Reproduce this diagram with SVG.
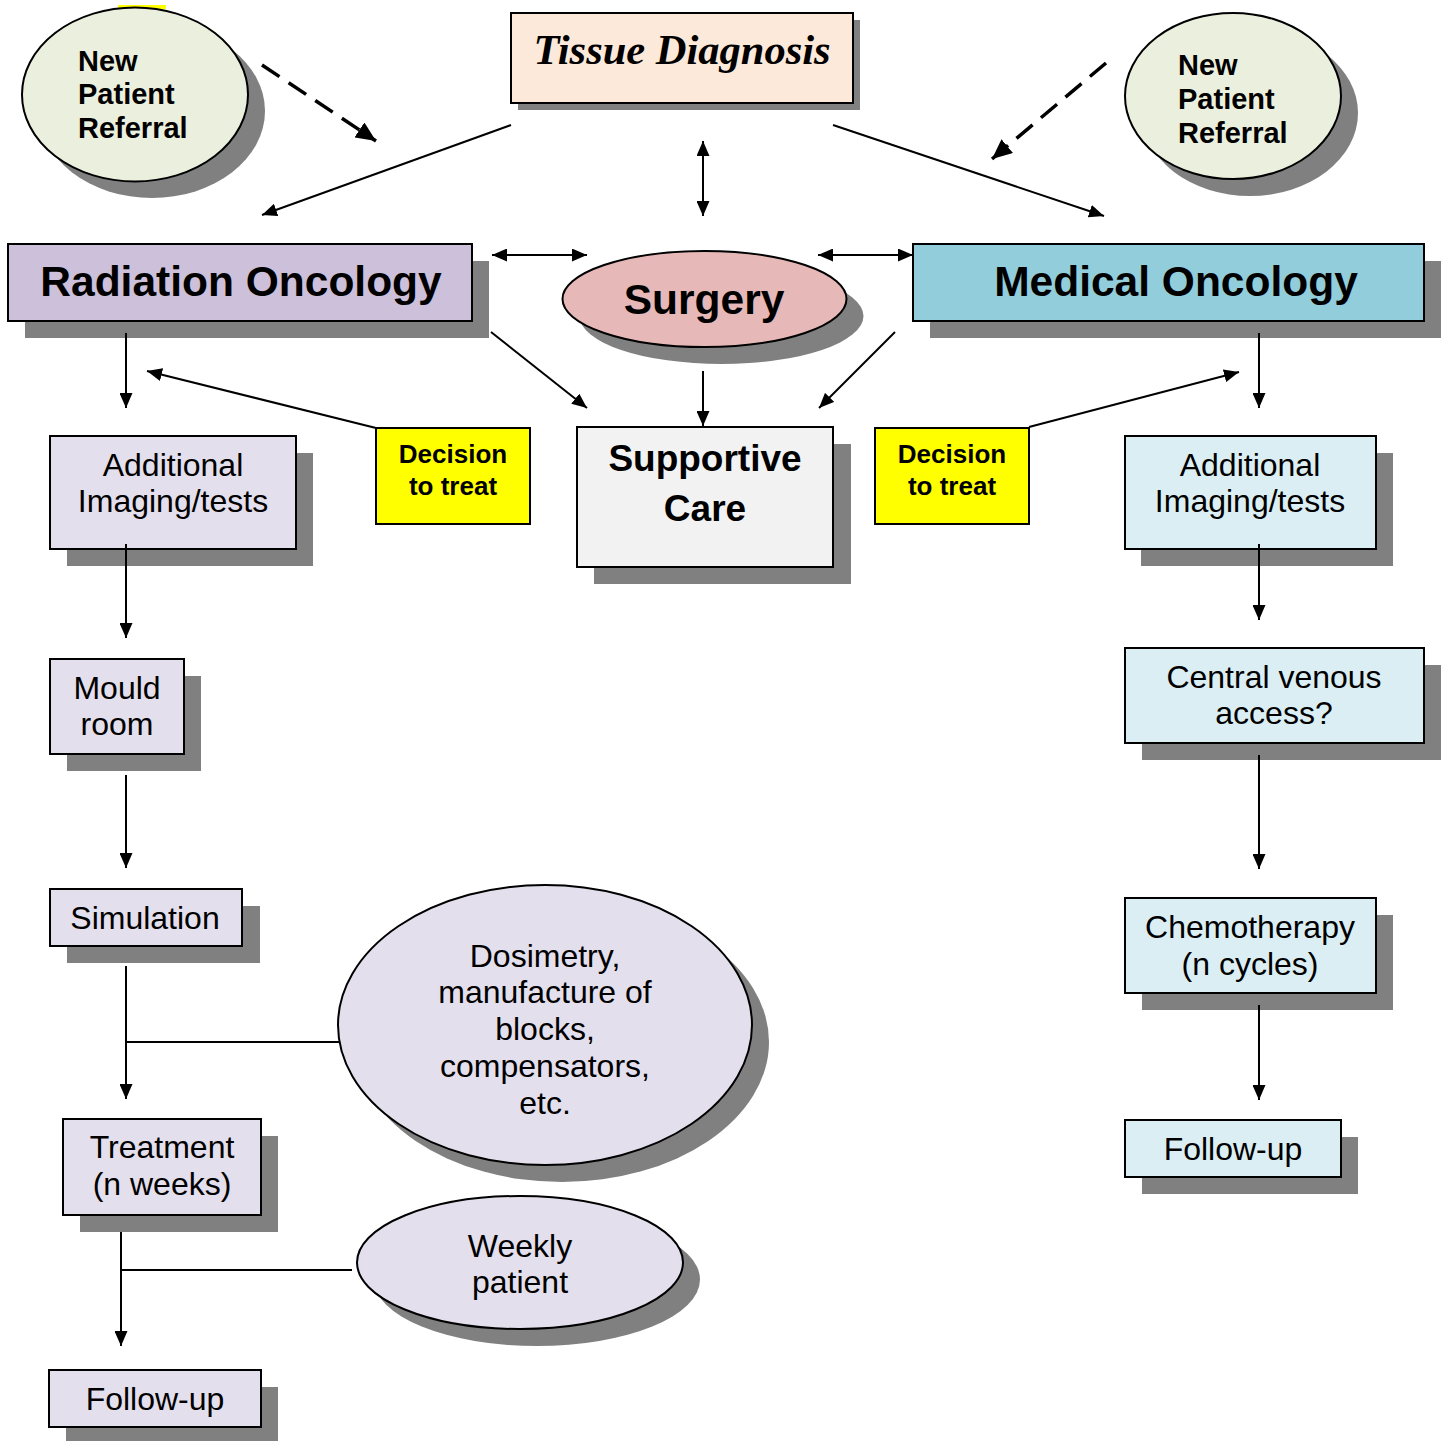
<svg xmlns="http://www.w3.org/2000/svg" width="1442" height="1441" viewBox="0 0 1442 1441">
<style>
.sh{fill:#808080}
.bx{stroke:#000;stroke-width:2}
.t{font-family:"Liberation Sans",Arial,sans-serif;fill:#000;text-anchor:middle}
.s{text-anchor:start}
.b{font-weight:bold}
.c{fill:none;stroke:#000;stroke-width:2}
.a{marker-end:url(#ah)}
.d{marker-start:url(#ah);marker-end:url(#ah)}
.dash{fill:none;stroke:#000;stroke-width:3.5;stroke-dasharray:21 11;marker-end:url(#ahb)}
</style>
<defs>
<marker id="ah" viewBox="0 0 15 13" refX="15" refY="6.5" markerWidth="15" markerHeight="13" markerUnits="userSpaceOnUse" orient="auto-start-reverse">
<path d="M0,0 L15,6.5 L0,13 Z" fill="#000"/>
</marker>
<marker id="ahb" viewBox="0 0 20 18" refX="20" refY="9" markerWidth="20" markerHeight="18" markerUnits="userSpaceOnUse" orient="auto">
<path d="M0,0 L20,9 L0,18 Z" fill="#000"/>
</marker>
</defs>
<rect x="0" y="0" width="1442" height="1441" fill="#fff"/>
<rect x="118" y="5" width="48" height="4" fill="#ffff00"/>

<g id="referral-left">
<ellipse class="sh" cx="152" cy="111" rx="113" ry="87"/>
<ellipse class="bx" cx="135" cy="94.5" rx="113" ry="87" fill="#ebf0de"/>
<text class="t b s" font-size="29" x="78" y="71">New</text>
<text class="t b s" font-size="29" x="78" y="104">Patient</text>
<text class="t b s" font-size="29" x="78" y="138">Referral</text>
</g>

<g id="referral-right">
<ellipse class="sh" cx="1250" cy="113" rx="108" ry="83"/>
<ellipse class="bx" cx="1233" cy="96" rx="108" ry="83" fill="#ebf0de"/>
<text class="t b s" font-size="29" x="1178" y="75">New</text>
<text class="t b s" font-size="29" x="1178" y="109">Patient</text>
<text class="t b s" font-size="29" x="1178" y="143">Referral</text>
</g>

<g id="tissue-diagnosis">
<rect class="sh" x="518" y="20" width="342" height="90"/>
<rect class="bx" x="511" y="13" width="342" height="90" fill="#fde9d9"/>
<text x="682" y="64" font-family="'Liberation Serif','Times New Roman',serif" font-size="42.5" font-weight="bold" font-style="italic" text-anchor="middle">Tissue Diagnosis</text>
</g>

<g id="radiation-oncology">
<rect class="sh" x="25" y="261" width="464" height="77"/>
<rect class="bx" x="8" y="244" width="464" height="77" fill="#ccc0da"/>
<text class="t b" font-size="42.5" x="241" y="296">Radiation Oncology</text>
</g>

<g id="surgery">
<ellipse class="sh" cx="721.5" cy="316" rx="142" ry="48"/>
<ellipse class="bx" cx="704.5" cy="299" rx="142" ry="48" fill="#e6b9b8"/>
<text class="t b" font-size="42.5" x="704" y="314">Surgery</text>
</g>

<g id="medical-oncology">
<rect class="sh" x="930" y="261" width="511" height="77"/>
<rect class="bx" x="913" y="244" width="511" height="77" fill="#92cddc"/>
<text class="t b" font-size="42.5" x="1176" y="296">Medical Oncology</text>
</g>

<g id="supportive-care">
<rect class="sh" x="594" y="444" width="257" height="140"/>
<rect class="bx" x="577" y="427" width="256" height="140" fill="#f2f2f2"/>
<text class="t b" font-size="37" x="705" y="471">Supportive</text>
<text class="t b" font-size="37" x="705" y="521">Care</text>
</g>

<g id="decision-left">
<rect class="bx" x="376" y="428" width="154" height="96" fill="#ffff00"/>
<text class="t b" font-size="26" x="453" y="463">Decision</text>
<text class="t b" font-size="26" x="453" y="495">to treat</text>
</g>

<g id="decision-right">
<rect class="bx" x="875" y="428" width="154" height="96" fill="#ffff00"/>
<text class="t b" font-size="26" x="952" y="463">Decision</text>
<text class="t b" font-size="26" x="952" y="495">to treat</text>
</g>

<g id="imaging-left">
<rect class="sh" x="67" y="453" width="246" height="113"/>
<rect class="bx" x="50" y="436" width="246" height="113" fill="#e4dfec"/>
<text class="t" font-size="32" x="173" y="476">Additional</text>
<text class="t" font-size="32" x="173" y="512">Imaging/tests</text>
</g>

<g id="mould-room">
<rect class="sh" x="67" y="676" width="134" height="95"/>
<rect class="bx" x="50" y="659" width="134" height="95" fill="#e4dfec"/>
<text class="t" font-size="32" x="117" y="699">Mould</text>
<text class="t" font-size="32" x="117" y="735">room</text>
</g>

<g id="simulation">
<rect class="sh" x="67" y="906" width="193" height="57"/>
<rect class="bx" x="50" y="889" width="192" height="57" fill="#e4dfec"/>
<text class="t" font-size="32" x="145" y="929">Simulation</text>
</g>

<g id="dosimetry">
<ellipse class="sh" cx="562" cy="1042" rx="207" ry="140"/>
<ellipse class="bx" cx="545" cy="1025" rx="207" ry="140" fill="#e4dfec"/>
<text class="t" font-size="32" x="545" y="967">Dosimetry,</text>
<text class="t" font-size="32" x="545" y="1003">manufacture of</text>
<text class="t" font-size="32" x="545" y="1040">blocks,</text>
<text class="t" font-size="32" x="545" y="1077">compensators,</text>
<text class="t" font-size="32" x="545" y="1114">etc.</text>
</g>

<g id="treatment">
<rect class="sh" x="80" y="1136" width="198" height="96"/>
<rect class="bx" x="63" y="1119" width="198" height="96" fill="#e4dfec"/>
<text class="t" font-size="32" x="162" y="1158">Treatment</text>
<text class="t" font-size="32" x="162" y="1195">(n weeks)</text>
</g>

<g id="weekly-patient">
<ellipse class="sh" cx="537" cy="1279.5" rx="163" ry="66.5"/>
<ellipse class="bx" cx="520" cy="1262.5" rx="163" ry="66.5" fill="#e4dfec"/>
<text class="t" font-size="32" x="520" y="1257">Weekly</text>
<text class="t" font-size="32" x="520" y="1293">patient</text>
</g>

<g id="followup-left">
<rect class="sh" x="66" y="1387" width="212" height="57"/>
<rect class="bx" x="49" y="1370" width="212" height="57" fill="#e4dfec"/>
<text class="t" font-size="32" x="155" y="1410">Follow-up</text>
</g>

<g id="imaging-right">
<rect class="sh" x="1141" y="453" width="252" height="113"/>
<rect class="bx" x="1125" y="436" width="251" height="113" fill="#dbeef3"/>
<text class="t" font-size="32" x="1250" y="476">Additional</text>
<text class="t" font-size="32" x="1250" y="512">Imaging/tests</text>
</g>

<g id="central-venous">
<rect class="sh" x="1142" y="665" width="299" height="95"/>
<rect class="bx" x="1125" y="648" width="299" height="95" fill="#dbeef3"/>
<text class="t" font-size="32" x="1274" y="688">Central venous</text>
<text class="t" font-size="32" x="1274" y="724">access?</text>
</g>

<g id="chemotherapy">
<rect class="sh" x="1142" y="915" width="251" height="95"/>
<rect class="bx" x="1125" y="898" width="251" height="95" fill="#dbeef3"/>
<text class="t" font-size="32" x="1250" y="938">Chemotherapy</text>
<text class="t" font-size="32" x="1250" y="975">(n cycles)</text>
</g>

<g id="followup-right">
<rect class="sh" x="1142" y="1137" width="216" height="57"/>
<rect class="bx" x="1125" y="1120" width="216" height="57" fill="#dbeef3"/>
<text class="t" font-size="32" x="1233" y="1160">Follow-up</text>
</g>

<g id="connectors">
<line class="dash" x1="262" y1="65" x2="376" y2="141"/>
<line class="dash" x1="1106" y1="63" x2="992" y2="159"/>
<line class="c a" x1="511" y1="125" x2="262" y2="215"/>
<line class="c a" x1="833" y1="125" x2="1104" y2="216"/>
<line class="c d" x1="703" y1="141" x2="703" y2="216"/>
<line class="c d" x1="492" y1="255" x2="587" y2="255"/>
<line class="c d" x1="818" y1="255" x2="913" y2="255"/>
<line class="c a" x1="491" y1="332" x2="587" y2="408"/>
<line class="c a" x1="895" y1="332" x2="819" y2="408"/>
<line class="c a" x1="703" y1="371" x2="703" y2="426"/>
<line class="c a" x1="376" y1="428" x2="147" y2="371"/>
<line class="c a" x1="1029" y1="427" x2="1239" y2="372"/>
<line class="c a" x1="126" y1="333" x2="126" y2="408"/>
<line class="c a" x1="1259" y1="333" x2="1259" y2="408"/>
<line class="c a" x1="126" y1="544" x2="126" y2="638"/>
<line class="c a" x1="126" y1="775" x2="126" y2="868"/>
<line class="c a" x1="126" y1="966" x2="126" y2="1099"/>
<line class="c" x1="126" y1="1042" x2="339" y2="1042"/>
<line class="c a" x1="121" y1="1232" x2="121" y2="1346"/>
<line class="c" x1="121" y1="1270" x2="352" y2="1270"/>
<line class="c a" x1="1259" y1="544" x2="1259" y2="620"/>
<line class="c a" x1="1259" y1="755" x2="1259" y2="869"/>
<line class="c a" x1="1259" y1="1005" x2="1259" y2="1100"/>
</g>
</svg>
